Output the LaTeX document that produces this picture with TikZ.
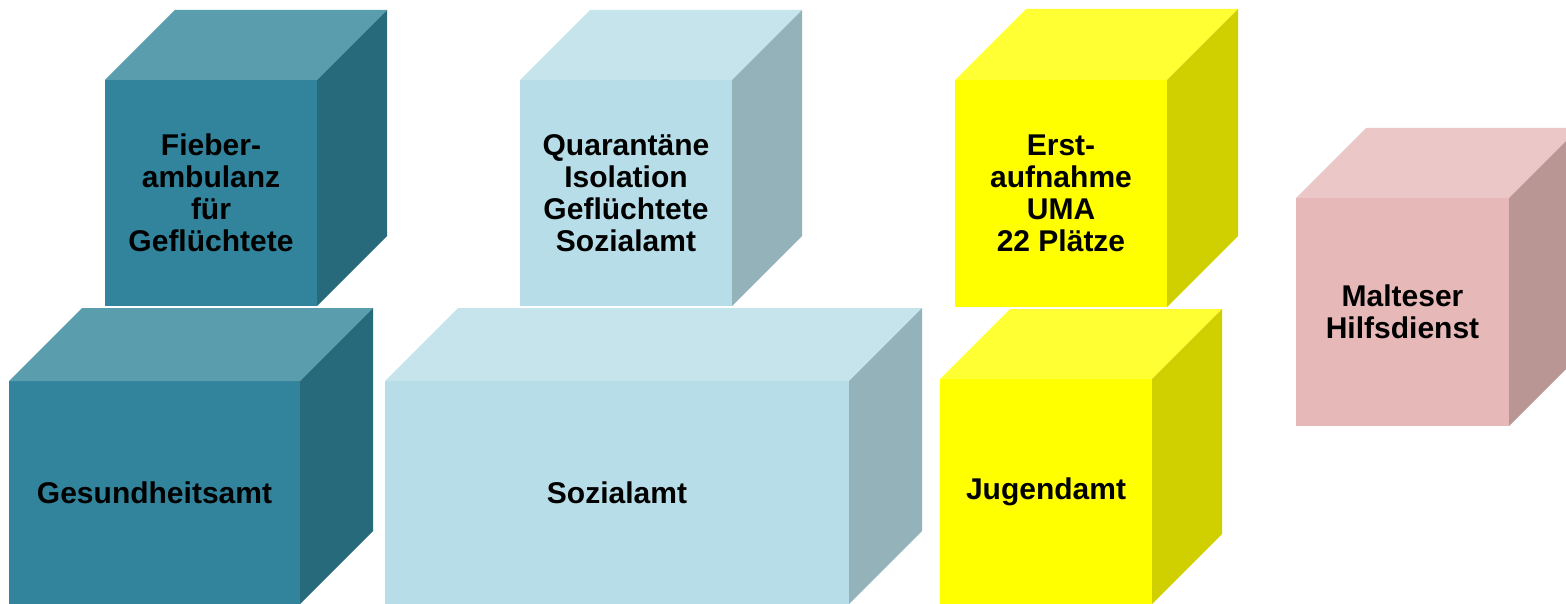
\documentclass[tikz,border=0pt]{standalone}
\usepackage{fontspec}
\setmainfont{Liberation Sans}
\definecolor{tealfront}{HTML}{31849B}
\definecolor{tealtop}{HTML}{5A9EAE}
\definecolor{tealside}{HTML}{276A7B}
\definecolor{lightfront}{HTML}{B7DEE8}
\definecolor{lighttop}{HTML}{C5E4EC}
\definecolor{lightside}{HTML}{94B2BA}
\definecolor{yelfront}{HTML}{FFFF00}
\definecolor{yeltop}{HTML}{FFFF33}
\definecolor{yelside}{HTML}{D0D000}
\definecolor{pinkfront}{HTML}{E6B9B8}
\definecolor{pinktop}{HTML}{EBC8C7}
\definecolor{pinkside}{HTML}{B99594}
\tikzset{
  face/.style={inner sep=0pt,outer sep=0pt,anchor=north west,align=center,
    font=\fontsize{30}{32}\selectfont\bfseries,text=black},
}
% #1 name, #2 x, #3 y, #4 width, #5 height, #6 depth, #7 colour prefix, #8 text
\newcommand\mycube[8]{%
  \node[face,fill=#7front,minimum width=#4pt,minimum height=#5pt] (#1) at (#2,#3) {#8};
  \fill[#7top] (#1.north west) -- ++(#6,-#6) -- ++(#4,0) -- (#1.north east) -- cycle;
  \fill[#7side] (#1.north east) -- ++(#6,-#6) -- ++(0,#5) -- (#1.south east) -- cycle;
}
\begin{document}
\begin{tikzpicture}[x=1pt,y=-1pt]
\useasboundingbox (0,0) rectangle (1566,604);
\clip (0,0) rectangle (1566,604);
\mycube{fieber}{105}{80}{212}{226}{70}{teal}{Fieber-\\ambulanz\\für\\Geflüchtete}
\mycube{quar}{520}{80}{212}{226}{70}{light}{Quarantäne\\Isolation\\Geflüchtete\\Sozialamt}
\mycube{erst}{955}{80}{212}{227}{71}{yel}{Erst-\\aufnahme\\UMA\\22 Plätze}
\mycube{gesund}{9}{381}{291}{223}{73}{teal}{Gesundheitsamt}
\mycube{sozial}{385}{381}{464}{223}{73}{light}{Sozialamt}
\mycube{jugend}{940}{379}{212}{225}{70}{yel}{Jugendamt}
\mycube{malteser}{1296}{198}{213}{228}{70}{pink}{Malteser\\Hilfsdienst}
\end{tikzpicture}
\end{document}
